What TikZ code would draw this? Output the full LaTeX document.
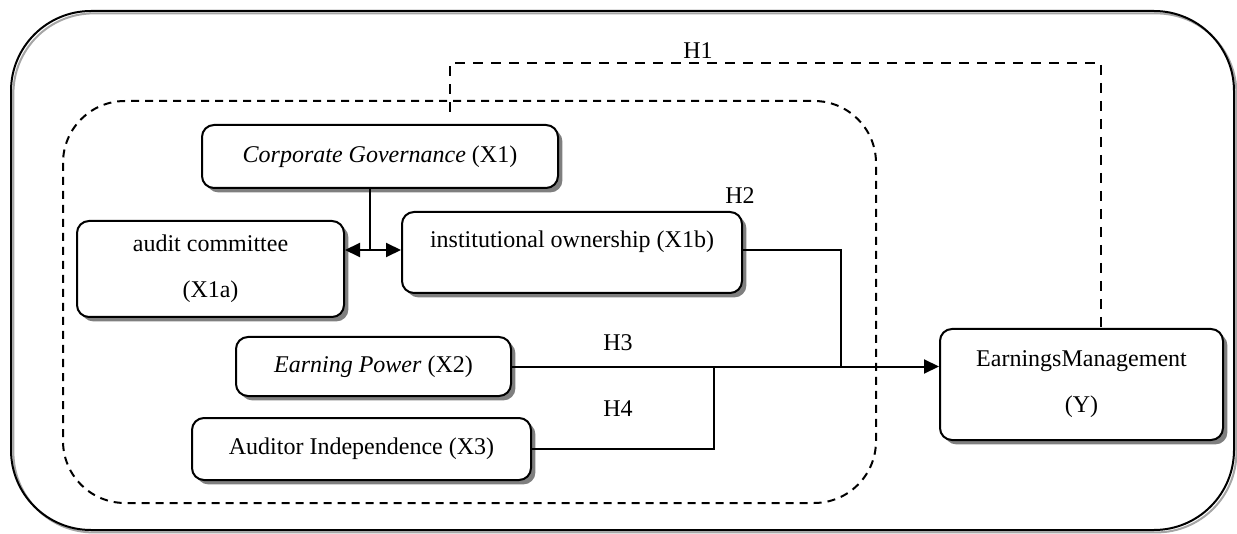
\documentclass[tikz,border=0pt]{standalone}
\usepackage{fontspec}
\setmainfont{Liberation Serif}
\usetikzlibrary{arrows.meta,shadows}
\tikzset{
  varbox/.style={draw, rounded corners=6pt, line width=1pt, fill=white, inner sep=0pt,
    align=center, font=\fontsize{12}{14.5}\selectfont,
    drop shadow={shadow xshift=2.2pt, shadow yshift=-2.2pt, fill=black, opacity=0.5}},
  hyp/.style={font=\fontsize{12}{14.5}\selectfont, inner sep=0pt},
  link/.style={line width=1pt},
  tip/.style={-{Triangle[length=7.5pt,width=7pt]}},
  tips/.style={{Triangle[length=7.5pt,width=7pt]}-{Triangle[length=7.5pt,width=7pt]}}
}
\begin{document}
\begin{tikzpicture}[x=0.5pt, y=-0.5pt]
            \useasboundingbox (0,0) rectangle (1237,534);
            % frames
            \draw[gray!70, line width=1pt, rounded corners=40pt, xshift=1.2pt, yshift=-1.2pt] (11,11) rectangle (1234,530);
            \draw[black,   line width=1pt, rounded corners=40pt]                               (11,11) rectangle (1234,530);
            \draw[line width=1pt, dash pattern=on 4pt off 3pt, rounded corners=31pt]        (63,101) rectangle (876,503);
            % variables
            \node[varbox, minimum width=178pt,   minimum height=31.5pt] (cg)  at ( 380.0,156.5) {\textit{Corporate Governance} (X1)};
            \node[varbox, minimum width=133.5pt, minimum height=48pt]   (ac)  at ( 210.5,269.0) {audit committee\\[8.5pt](X1a)};
            \node[varbox, minimum width=170pt,   minimum height=40.5pt] (io)  at ( 572.0,252.5) {institutional ownership (X1b)\\[-1.5pt]~};
            \node[varbox, minimum width=137.5pt, minimum height=29.5pt] (ep)  at ( 373.5,366.5) {\textit{Earning Power} (X2)};
            \node[varbox, minimum width=169.5pt, minimum height=31pt]   (ai)  at ( 361.5,449.0) {Auditor Independence (X3)};
            \node[varbox, minimum width=141.5pt, minimum height=55.5pt] (em)  at (1081.5,384.5) {EarningsManagement\\[8.5pt](Y)};
            % hypotheses
            \node[hyp] (h1) at (698, 51) {H1};
            \node[hyp] (h2) at (740,196) {H2};
            \node[hyp] (h3) at (618,343) {H3};
            \node[hyp] (h4) at (618,409) {H4};
            % junctions
            \coordinate (jc) at ( 370,250);
            \coordinate (jb) at ( 841,366);
            \coordinate (jx) at ( 714,366);
            \coordinate (ja) at ( 450,112);
            \coordinate (jd) at (1101, 63);
            % connectors
            \draw[link] (cg.south -| jc) -- (jc);
            \draw[link, tips] (ac.east |- jc) -- (io.west |- jc);
            \draw[link] (io.east |- jc) -| (jb);
            \draw[link] (ai.east) -| (jx);
            \draw[link, tip] (ep.east) -- (em.west |- ep.east);
            \draw[line width=1.4pt, dash pattern=on 5pt off 4pt] (ja) |- (jd) -- (jd |- em.north);
\end{tikzpicture}
\end{document}
